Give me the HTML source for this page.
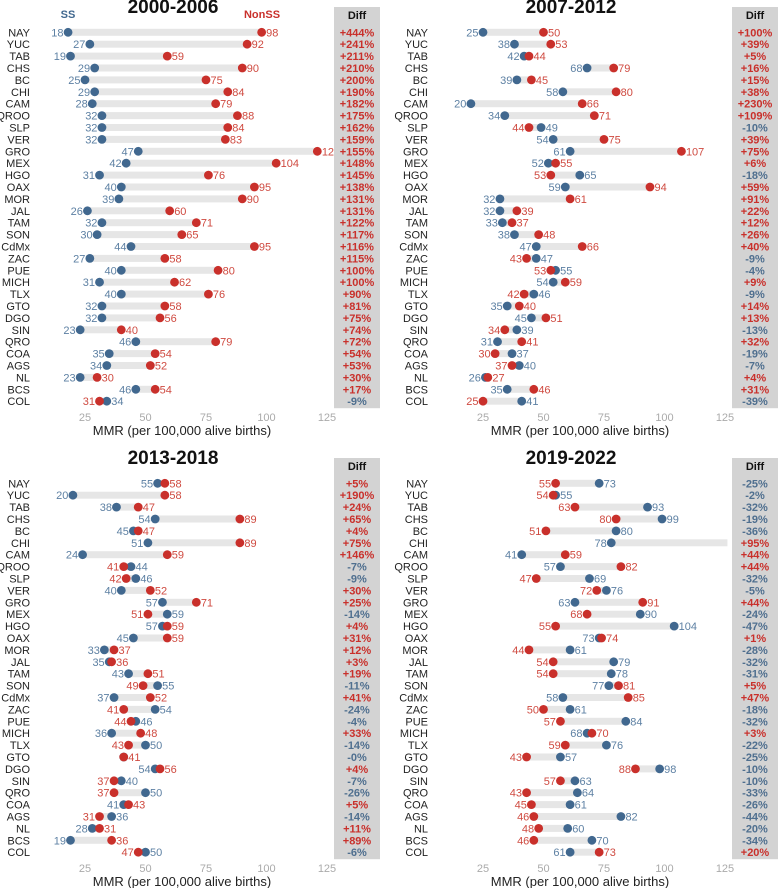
<!DOCTYPE html>
<html><head><meta charset="utf-8"><style>
html,body{margin:0;padding:0;background:#fff}
svg{display:block;font-family:"Liberation Sans",Arial,sans-serif}
</style></head><body>
<svg id="chart" width="778" height="888" viewBox="0 0 778 888" xmlns="http://www.w3.org/2000/svg"></svg>
<script>
const states = ["NAY","YUC","TAB","CHS","BC","CHI","CAM","QROO","SLP","VER","GRO","MEX","HGO","OAX","MOR","JAL","TAM","SON","CdMx","ZAC","PUE","MICH","TLX","GTO","DGO","SIN","QRO","COA","AGS","NL","BCS","COL"];
const periods = ["2000-2006","2007-2012","2013-2018","2019-2022"];
const ss1 = [18,27,19,29,25,29,28,32,32,32,47,42,31,40,39,26,32,30,44,27,40,31,40,32,32,23,46,35,34,23,46,34];
const non1 = [98,92,59,90,75,84,79,88,84,83,121,104,76,95,90,60,71,65,95,58,80,62,76,58,56,40,79,54,52,30,54,31];
const diff1 = ["+444%","+241%","+211%","+210%","+200%","+190%","+182%","+175%","+162%","+159%","+155%","+148%","+145%","+138%","+131%","+131%","+122%","+117%","+116%","+115%","+100%","+100%","+90%","+81%","+75%","+74%","+72%","+54%","+53%","+30%","+17%","-9%"];
const ss2 = [25,38,42,68,39,58,20,34,49,54,61,52,65,59,32,32,33,38,47,47,55,54,46,35,45,39,31,37,40,26,35,41];
const non2 = [50,53,44,79,45,80,66,71,44,75,107,55,53,94,61,39,37,48,66,43,53,59,42,40,51,34,41,30,37,27,46,25];
const diff2 = ["+100%","+39%","+5%","+16%","+15%","+38%","+230%","+109%","-10%","+39%","+75%","+6%","-18%","+59%","+91%","+22%","+12%","+26%","+40%","-9%","-4%","+9%","-9%","+14%","+13%","-13%","+32%","-19%","-7%","+4%","+31%","-39%"];
const ss3 = [55,20,38,54,45,51,24,44,46,40,57,59,57,45,33,35,43,55,37,54,46,36,50,41,54,40,50,41,36,28,19,50];
const non3 = [58,58,47,89,47,89,59,41,42,52,71,51,59,59,37,36,51,49,52,41,44,48,43,41,56,37,37,43,31,31,36,47];
const diff3 = ["+5%","+190%","+24%","+65%","+4%","+75%","+146%","-7%","-9%","+30%","+25%","-14%","+4%","+31%","+12%","+3%","+19%","-11%","+41%","-24%","-4%","+33%","-14%","-0%","+4%","-7%","-26%","+5%","-14%","+11%","+89%","-6%"];
const ss4 = [73,55,93,99,80,78,41,57,69,76,63,90,104,73,61,79,78,77,58,61,84,68,76,57,98,63,64,61,82,60,70,61];
const non4 = [55,54,63,80,51,152,59,82,47,72,91,68,55,74,44,54,54,81,85,50,57,70,59,43,88,57,43,45,46,48,46,73];
const diff4 = ["-25%","-2%","-32%","-19%","-36%","+95%","+44%","+44%","-32%","-5%","+44%","-24%","-47%","+1%","-28%","-32%","-31%","+5%","+47%","-18%","-32%","+3%","-22%","-25%","-10%","-10%","-33%","-26%","-44%","-20%","-34%","+20%"];
const ticks = [25,50,75,100,125];

const SSC="#41688f", NSC="#c9302b", SSL="#5d80a3", NSL="#cf4a40";
const svg=document.getElementById('chart');
const NS="http://www.w3.org/2000/svg";
function mk(tag,attrs,parent,text){const e=document.createElementNS(NS,tag);for(const k in attrs)e.setAttribute(k,attrs[k]);if(text!==undefined)e.textContent=text;(parent||svg).appendChild(e);return e;}

const panels=[{ss:ss1,non:non1,diff:diff1,x0:0,y0:0,dx:0},{ss:ss2,non:non2,diff:diff2,x0:389,y0:0,dx:9},{ss:ss3,non:non3,diff:diff3,x0:0,y0:451,dx:0},{ss:ss4,non:non4,diff:diff4,x0:389,y0:451,dx:9}];

panels.forEach((p,pi)=>{
  const g=mk('g',{transform:`translate(${p.x0},${p.y0})`});
  
  
  const xs=v=>85+p.dx+(v-25)*2.42;
  const ys=i=>32.3+i*11.9;
  const xmax=xs(126);
  const t=mk('text',{x:173+p.dx,y:13,'text-anchor':'middle','font-size':19,'font-weight':'bold',fill:'#111'},g,periods[pi]);
  
  
  if(pi===0){
    const a=mk('text',{x:68,y:18,'text-anchor':'middle','font-size':11,'font-weight':'bold',fill:SSC},g,'SS');
    
    
    const b=mk('text',{x:262,y:18,'text-anchor':'middle','font-size':11,'font-weight':'bold',fill:NSC},g,'NonSS');
    
    
  }
  ticks.forEach(v=>{
    const tk=mk('text',{x:xs(v),y:421,'text-anchor':'middle','font-size':11,fill:'#aaaaaa'},g,String(v));
    
    
  });
  const at=mk('text',{x:182+p.dx,y:435,'text-anchor':'middle','font-size':13,fill:'#222'},g,'MMR (per 100,000 alive births)');
  
  
  states.forEach((s,i)=>{
    const y=ys(i), a=p.ss[i], b=p.non[i];
    const sl=mk('text',{x:30+p.dx,y:y+4,'text-anchor':'end','font-size':11,fill:'#222'},g,s);
    
    
    const lo=Math.min(a,b), hi=Math.max(a,b);
    const x1=xs(lo), x2=Math.min(xs(hi),xmax);
    const bar=mk('rect',{x:x1,y:y-3.5,width:Math.max(0,x2-x1),height:7,fill:'#e6e6e6'},g);
    
    
    const ssLeft=a<=b;
    if(a!==b){
      const l1=mk('text',{x:ssLeft?xs(a)-4.5:xs(a)+4.5,y:y+4,'text-anchor':ssLeft?'end':'start','font-size':11,fill:SSL},g,String(a));
      
      
    }
    if(xs(b)<=xmax){
      const l2=mk('text',{x:ssLeft?xs(b)+4.5:xs(b)-4.5,y:y+4,'text-anchor':ssLeft?'start':'end','font-size':11,fill:NSL},g,String(b));
      
      
    }
    const d1=mk('circle',{cx:xs(a),cy:y,r:4.4,fill:SSC},g);
    
    
    if(xs(b)<=xmax){
      const d2=mk('circle',{cx:xs(b),cy:y,r:4.4,fill:NSC},g);
      
      
    }
  });
  const box=mk('rect',{x:334+p.dx,y:7,width:46,height:ys(31)+7-7,fill:'#d3d3d3'},g);
  
  
  const dh=mk('text',{x:357+p.dx,y:19,'text-anchor':'middle','font-size':11,'font-weight':'bold',fill:'#111'},g,'Diff');
  
  
  p.diff.forEach((d,i)=>{
    const dt=mk('text',{x:357+p.dx,y:ys(i)+4,'text-anchor':'middle','font-size':11,'font-weight':'bold',fill:d.startsWith('+')?'#c9302b':'#4f6f8f'},g,d);
    
    
  });
});
</script>
</body></html>
